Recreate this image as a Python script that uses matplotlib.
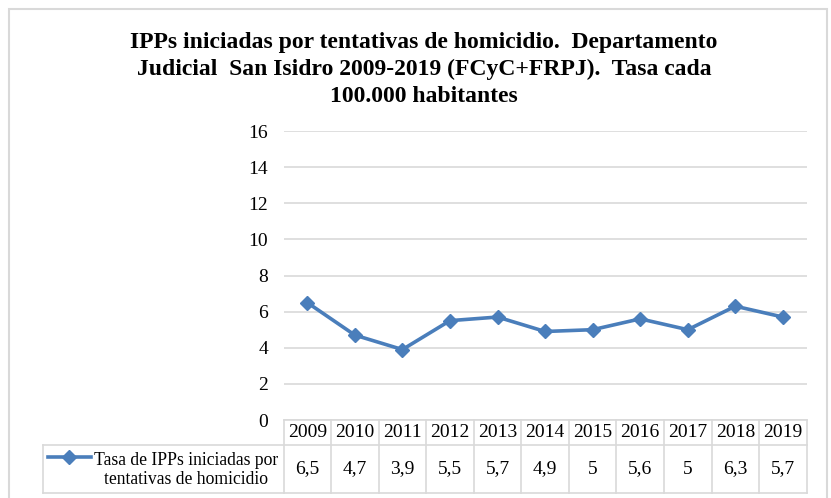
import matplotlib.pyplot as plt
from matplotlib.patches import Rectangle
from matplotlib.lines import Line2D

# Tasa de IPPs por tentativas de homicidio, San Isidro
years = ['2009', '2010', '2011', '2012', '2013', '2014', '2015', '2016', '2017', '2018', '2019']
tasa = [6.5, 4.7, 3.9, 5.5, 5.7, 4.9, 5.0, 5.6, 5.0, 6.3, 5.7]
series_label = 'Tasa de IPPs iniciadas por\ntentativas de homicidio'
title = ('IPPs iniciadas por tentativas de homicidio.  Departamento\n'
         'Judicial  San Isidro 2009-2019 (FCyC+FRPJ).  Tasa cada\n'
         '100.000 habitantes')

blue = '#4A7EBB'
grid_c = '#D9D9D9'
serif = 'Liberation Serif'

W, H = 831, 498
fig = plt.figure(figsize=(W / 100, H / 100), dpi=100)


def px(x0, y0, x1, y1):
    # pixel box (top-left origin) -> figure fraction rect
    return [x0 / W, 1 - y1 / H, (x1 - x0) / W, (y1 - y0) / H]


# outer chart border
fig.patches.append(Rectangle((9 / W, -0.05), (827 - 9) / W, 1.05 - 9 / H,
                             transform=fig.transFigure, fill=False,
                             edgecolor='#D9D9D9', lw=1.5))

fig.text(424 / W, 1 - 32 / H, title, ha='center', va='top', fontsize=17,
         fontweight='bold', family=serif, linespacing=1.38)

left, right = 283.5, 806.7
ax = fig.add_axes(px(left, 131, right, 420))
x = list(range(len(years)))
ax.plot(x, tasa, color=blue, lw=2.6, marker='D', ms=7, clip_on=False)
ax.set_xlim(-0.5, len(years) - 0.5)
ax.set_ylim(0, 16)
ax.set_yticks(range(0, 17, 2))
ax.set_xticks([])
ax.yaxis.grid(True, color=grid_c, lw=1.2)
ax.set_axisbelow(True)
for s in ax.spines.values():
    s.set_visible(False)
ax.tick_params(axis='y', length=0, pad=11)
for t in ax.get_yticklabels():
    t.set_family(serif)
    t.set_fontsize(14)

# data table under the plot
tab = fig.add_axes(px(left, 420, right, 493))
tab.set_xlim(-0.5, len(years) - 0.5)
tab.set_ylim(0, 73)
tab.axis('off')
legend_x0 = -0.5 - (left - 43) / ((right - left) / len(years))
kw = dict(color=grid_c, lw=1.2, clip_on=False)
tab.plot([-0.5, len(years) - 0.5], [73, 73], **kw)
tab.plot([legend_x0, len(years) - 0.5], [48, 48], **kw)
tab.plot([legend_x0, len(years) - 0.5], [0, 0], **kw)
tab.plot([legend_x0, legend_x0], [0, 48], **kw)
for i in range(len(years) + 1):
    tab.plot([i - 0.5, i - 0.5], [0, 73], **kw)
for i, (yr, v) in enumerate(zip(years, tasa)):
    tab.text(i, 60.5, yr, ha='center', va='center', family=serif, fontsize=14)
    tab.text(i, 24, f'{v:g}'.replace('.', ','), ha='center', va='center',
             family=serif, fontsize=14)

# legend key inside the first cell
tab.add_line(Line2D([legend_x0 + 0.1, legend_x0 + 1.0], [36, 36], color=blue, lw=2.6,
                    clip_on=False))
tab.plot([legend_x0 + 0.55], [36], marker='D', ms=7, color=blue, clip_on=False)
tab.text(-0.62, 23, series_label, ha='right', va='center', family=serif,
         fontsize=12.7, linespacing=1.1, multialignment='center')

fig.savefig('out.png', dpi=100)
